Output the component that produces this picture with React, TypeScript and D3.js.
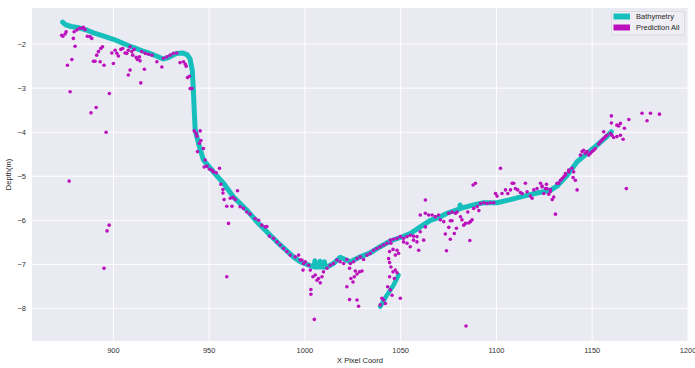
import React from 'react';
import * as d3 from 'd3';

// Bathymetry trace, [x pixel coord, depth m]
const bathymetry: [number, number][] = [
  [873.5, -1.5], [875, -1.56], [878, -1.6], [882, -1.63], [886, -1.68], [890, -1.75],
  [895, -1.82], [900, -1.89], [905, -1.98], [910, -2.07], [915, -2.15], [919, -2.21],
  [923, -2.28], [926, -2.34], [929, -2.3], [933, -2.21], [936, -2.2], [938.5, -2.24],
  [940, -2.33], [941.2, -2.6], [941.7, -3.0], [942.2, -3.5], [942.7, -3.95], [944.4, -4.25],
  [947, -4.63], [952.2, -4.9], [957.5, -5.16], [962.7, -5.47], [969.7, -5.77], [974.9, -6.03],
  [981.9, -6.34], [987.1, -6.56], [994, -6.83], [997.5, -6.94], [1001, -7.0], [1004.9, -7.06],
  [1005.2, -6.92], [1005.5, -7.06], [1007.6, -7.06], [1007.9, -6.93], [1008.2, -7.06],
  [1009.9, -7.06], [1010.2, -6.94], [1010.5, -7.06], [1011.5, -7.06], [1014.9, -6.98],
  [1018.4, -6.84], [1021, -6.89], [1023.7, -6.94], [1028.9, -6.83], [1034.1, -6.74],
  [1039.3, -6.6], [1044.6, -6.47], [1049.8, -6.39], [1055, -6.3], [1060.2, -6.15],
  [1065.5, -6.0], [1070.7, -5.92], [1074.2, -5.84], [1080.8, -5.74], [1081, -5.65],
  [1081.2, -5.73], [1088.1, -5.65], [1093.3, -5.6], [1100.3, -5.6], [1107.3, -5.53],
  [1114.2, -5.45], [1121.2, -5.38], [1128.2, -5.32], [1131.7, -5.22], [1136.9, -4.98],
  [1142.1, -4.67], [1147.3, -4.48], [1152.6, -4.29], [1156.9, -4.13], [1160, -3.99],
];

// short second bathymetry branch
const bathymetryBranch: [number, number][] = [
  [1039.3, -7.96], [1042.8, -7.7], [1046.3, -7.47], [1048.9, -7.24],
];

// Prediction All scatter, [x, depth]
const prediction: [number, number][] = [
  [873, -1.8], [873.6, -1.82], [874.8, -1.77], [875.3, -1.72], [879.5, -1.72], [880.9, -1.68],
  [882.2, -1.64], [883.5, -1.64], [884.3, -1.62], [885.2, -1.67], [886.4, -1.82], [887.8, -1.83],
  [888.7, -1.87], [879.1, -1.87], [880, -2.05], [876, -2.48], [878.3, -2.35], [877.4, -3.08],
  [889.6, -2.39], [890.4, -2.39], [891.3, -2.25], [892.2, -2.17], [893.1, -2.4], [893.4, -2.1],
  [894.3, -2.06], [895.1, -2.48], [891, -3.44], [888.3, -3.56], [897.9, -3.12], [899.2, -2.2],
  [900, -2.44], [900.9, -2.14], [901.8, -2.21], [902.6, -2.27], [903.9, -2.12], [904.9, -2.1],
  [906.1, -2.2], [907, -2.21], [907.8, -2.14], [908.7, -2.06], [909.6, -2.17], [908.7, -2.59],
  [907.8, -2.7], [910.1, -2.25], [910.8, -2.12], [911.9, -2.3], [912.5, -2.35], [913.6, -2.29],
  [913.9, -2.38], [914.8, -2.17], [916.2, -2.57], [914.3, -2.88], [916.6, -2.21], [918.3, -2.23],
  [920.1, -2.25], [922.7, -2.4], [925.3, -2.52], [926.1, -2.32], [927.9, -2.29], [929.6, -2.25],
  [931.3, -2.21], [933.1, -2.2], [934.8, -2.42], [936.6, -2.4], [937.5, -2.45], [938, -2.5],
  [938.7, -2.76], [939.7, -2.73], [940.1, -3.01], [941, -3.01],
  [876.9, -5.11], [895.1, -7.09], [897.8, -6.11], [896.7, -6.24], [896.2, -4.0],
  [942.2, -3.97], [943.2, -4.03], [945.3, -3.97], [943.6, -4.09], [945.7, -4.19], [944.9, -4.25],
  [947, -4.37], [943.9, -4.44], [947.9, -4.63], [947.4, -4.79], [948.8, -4.77], [950.2, -4.84],
  [951.4, -4.86], [952.2, -4.9], [953.7, -4.92], [955.4, -4.82], [956.1, -5.18], [957.2, -5.3],
  [957.2, -5.38], [964.8, -5.33], [957.8, -5.53], [959.2, -5.68], [961.9, -5.68], [961, -5.5],
  [962.4, -5.48], [963.6, -5.53], [960.1, -6.07], [966.2, -5.69], [967.9, -5.73], [969.7, -5.81],
  [971.4, -5.86], [974, -5.96], [975.8, -6.0], [977.5, -6.11], [979.3, -6.15], [980.1, -6.14],
  [981.5, -6.36], [983.6, -6.41], [985.4, -6.49], [987.1, -6.56], [988.8, -6.64], [990.6, -6.71],
  [992.3, -6.79], [994.9, -6.83], [996.7, -6.79], [998.4, -6.9], [1000.2, -6.94], [1001.9, -7.02],
  [959.2, -7.28],
  [997.5, -6.9], [999.3, -6.98], [999, -7.13], [1002.8, -7.13], [1004.2, -7.28], [1005.4, -7.24],
  [1006.3, -7.36], [1007.1, -7.32], [1008, -7.42], [1008.9, -7.28], [1009.7, -7.17], [1011.5, -7.09],
  [1013.2, -7.02], [1014.9, -6.98], [1016.7, -6.9], [1018.4, -6.94], [1020.2, -6.98], [1021.9, -6.89],
  [1023.7, -6.98], [1025.4, -6.94], [1027.2, -6.87], [1028.9, -6.83], [1030.6, -6.89], [1032.4, -6.79],
  [1034.1, -6.75], [1035.8, -6.68], [1037.6, -6.64], [1039.3, -6.6], [1041.1, -6.56], [1042.8, -6.52],
  [1044.6, -6.45], [1046.3, -6.43], [1048.1, -6.41], [1049.8, -6.37], [1051.5, -6.41], [1053.3, -6.37],
  [1055, -6.34], [1056.7, -6.36], [1058.5, -6.37], [1060.2, -6.26], [1062.9, -6.15],
  [1003.1, -7.57], [1003.1, -7.68], [1004.9, -8.25], [1021.9, -7.51], [1023.3, -7.09], [1024, -7.32],
  [1025.1, -7.4], [1025.8, -7.28], [1026.3, -7.15], [1027.2, -7.22], [1028.5, -7.17], [1029.8, -7.15],
  [1023.3, -7.8], [1027.2, -7.81], [1028, -7.95],
  [1044.2, -6.71], [1044.9, -6.52], [1046, -6.66], [1047.2, -6.79], [1048.1, -6.68], [1048.9, -6.75],
  [1043.7, -6.87], [1044.2, -6.96], [1044.9, -7.06], [1046, -7.17], [1044.2, -7.28], [1046.7, -7.32],
  [1047.2, -7.13], [1048.1, -7.19], [1043.2, -7.51], [1044.6, -7.58], [1045.5, -7.7], [1040.2, -7.77],
  [1041.1, -7.81], [1042, -7.89], [1039.3, -7.92], [1049.8, -7.77],
  [1051.5, -6.49], [1053.3, -6.52], [1055, -6.6], [1056.7, -6.45], [1058.5, -6.49], [1059.4, -6.68],
  [1062, -6.45], [1062.9, -5.84], [1064.6, -5.88], [1060.2, -5.88], [1068.1, -5.92], [1069.8, -5.88],
  [1062.9, -5.54],
  [1066.4, -5.88], [1068.1, -5.92], [1070.7, -5.99], [1072.5, -6.03], [1075.1, -5.84], [1076.8, -5.81],
  [1078.6, -5.84], [1079.4, -5.81], [1081.2, -5.92], [1082, -5.99], [1082.9, -6.11], [1083.8, -6.07],
  [1085.5, -6.06], [1086.4, -6.03], [1087.3, -5.99], [1085, -5.81], [1088.1, -5.73], [1089.9, -5.69],
  [1091.6, -5.62], [1093.4, -5.6], [1095.1, -5.62], [1096.8, -5.6], [1098.6, -5.6], [1075.1, -6.16],
  [1075.9, -6.01], [1076.8, -6.01], [1073.3, -6.31], [1075.9, -6.43], [1078, -6.3], [1079.1, -6.18],
  [1073.9, -6.69], [1086.1, -6.46], [1087.8, -5.2], [1089, -5.16], [1090.8, -5.78], [1099.5, -5.39],
  [1100.3, -5.45], [1102.1, -4.82], [1102.9, -5.39], [1104.7, -5.31], [1105.9, -5.39], [1107.3, -5.31],
  [1108.2, -5.16], [1109, -5.16], [1109.9, -5.28], [1111.1, -5.31], [1112.5, -5.37], [1113.4, -5.39],
  [1115.1, -5.16], [1116, -5.35], [1117.7, -5.45], [1118.6, -5.5], [1119.5, -5.31], [1121.2, -5.28],
  [1123, -5.16], [1123.8, -5.22], [1124.7, -5.39], [1125.6, -5.28], [1126.1, -5.18], [1127.3, -5.41],
  [1128.2, -5.3], [1129.1, -5.53], [1130.8, -5.86], [1132.5, -5.16], [1134.3, -5.05], [1136, -4.97],
  [1137.8, -4.9], [1084.1, -8.4],
  [1123.8, -5.24], [1126.4, -5.28], [1128.1, -5.35], [1129.9, -5.47], [1131.6, -5.16], [1133.4, -5.09],
  [1135.1, -5.01], [1136, -4.94], [1137.7, -4.86], [1139.4, -4.82], [1140.3, -4.9], [1140, -5.03],
  [1141.2, -5.09], [1142.1, -5.31], [1143.8, -4.52], [1144.7, -4.44], [1145.5, -4.41], [1146.4, -4.48],
  [1147.3, -4.44], [1148.2, -4.52], [1149, -4.48], [1149.9, -4.44], [1150.8, -4.41], [1151.6, -4.37],
  [1153.4, -4.27], [1154.2, -4.22], [1155.1, -4.18], [1156, -4.14], [1156.9, -4.1], [1157.7, -4.07],
  [1156, -3.99], [1159.5, -4.03], [1160.3, -4.07], [1161.2, -4.12], [1162.9, -4.1], [1164.7, -4.07],
  [1166.1, -4.16], [1160, -3.63], [1160, -3.79], [1162.9, -3.84], [1164.7, -3.8], [1163.8, -3.86],
  [1166.8, -3.91], [1169.1, -3.71], [1176, -3.57], [1180.4, -3.57], [1178.6, -3.74], [1185.1, -3.59],
  [1167.8, -5.28],
];

const xTicks = [900, 950, 1000, 1050, 1100, 1150, 1200];
const yTicks = [-2, -3, -4, -5, -6, -7, -8];
const legendItems = [
  { label: 'Bathymetry', color: '#17bfbc' },
  { label: 'Prediction All', color: '#bb10bb' },
];

const W = 695;
const H = 368;
const margin = { top: 8, right: 7, bottom: 27, left: 32 };

export default function App() {
  const x = d3.scaleLinear().domain([857.5, 1200]).range([margin.left, W - margin.right]);
  const y = d3.scaleLinear().domain([-8.74, -1.18]).range([H - margin.bottom, margin.top]);
  const line = d3.line<[number, number]>().x(d => x(d[0])).y(d => y(d[1]));
  const font = 'Arial, "Liberation Sans", sans-serif';
  const left = margin.left, right = W - margin.right, top = margin.top, bottom = H - margin.bottom;

  return (
    <svg width={W} height={H} style={{ position: 'absolute', left: 0, top: 0, background: '#fff' }} fontFamily={font}>
      <rect x={left} y={top} width={right - left} height={bottom - top} fill="#eaeaf2" />
      {xTicks.map(t => (
        <line key={'gx' + t} x1={x(t)} x2={x(t)} y1={top} y2={bottom} stroke="#fff" strokeWidth={1} />
      ))}
      {yTicks.map(t => (
        <line key={'gy' + t} x1={left} x2={right} y1={y(t)} y2={y(t)} stroke="#fff" strokeWidth={1} />
      ))}
      {/* bathymetry drawn as a thick trace */}
      <path d={line(bathymetry) || ''} fill="none" stroke={legendItems[0].color} strokeWidth={5} strokeLinecap="round" strokeLinejoin="round" />
      <path d={line(bathymetryBranch) || ''} fill="none" stroke={legendItems[0].color} strokeWidth={4.5} strokeLinecap="round" strokeLinejoin="round" />
      {prediction.map((d, i) => (
        <circle key={i} cx={x(d[0])} cy={y(d[1])} r={1.8} fill={legendItems[1].color} />
      ))}
      {xTicks.map(t => (
        <text key={'tx' + t} x={x(t)} y={bottom + 12} fontSize={7.5} fill="#333" textAnchor="middle">{t}</text>
      ))}
      {yTicks.map(t => (
        <text key={'ty' + t} x={left - 6} y={y(t) + 2.7} fontSize={7.5} fill="#333" textAnchor="end">{'\u2212' + Math.abs(t)}</text>
      ))}
      <text x={(left + right) / 2} y={363} fontSize={7.5} fill="#262626" textAnchor="middle">X Pixel Coord</text>
      <text transform={`translate(10.5,${(top + bottom) / 2}) rotate(-90)`} fontSize={7.5} fill="#262626" textAnchor="middle">Depth(m)</text>
      <g transform="translate(611.5,11.5)">
        <rect width={73} height={23.5} rx={2} fill="#eeeef4" stroke="#d6d6dc" strokeWidth={0.8} />
        {legendItems.map((it, i) => (
          <g key={it.label} transform={`translate(2,${2 + i * 11})`}>
            <rect width={16.5} height={6} fill={it.color} />
            <text x={22.5} y={5.8} fontSize={7.5} fill="#262626">{it.label}</text>
          </g>
        ))}
      </g>
    </svg>
  );
}
